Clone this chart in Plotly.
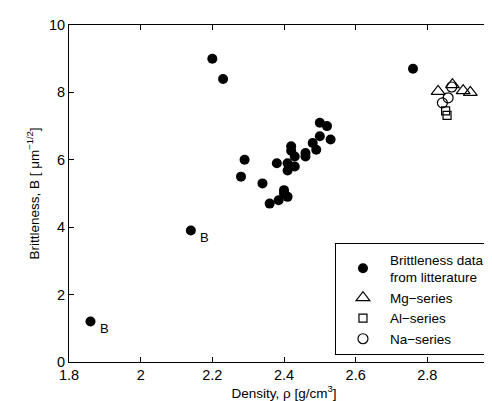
import plotly.graph_objects as go

# literature data (density g/cm3, brittleness um^-1/2)
lit_density = [1.86, 2.14, 2.20, 2.23, 2.76, 2.50, 2.52, 2.50, 2.53, 2.48, 2.49,
               2.42, 2.42, 2.43, 2.46, 2.46, 2.29, 2.38, 2.41, 2.41, 2.43,
               2.28, 2.34, 2.40, 2.40, 2.41, 2.385, 2.36]
lit_brittle = [1.2, 3.9, 9.0, 8.4, 8.7, 7.1, 7.0, 6.7, 6.6, 6.5, 6.3,
               6.4, 6.27, 6.1, 6.2, 6.1, 6.0, 5.9, 5.9, 5.68, 5.8,
               5.5, 5.3, 5.1, 5.0, 4.9, 4.8, 4.7]

mg_density = [2.83, 2.87, 2.90, 2.92]
mg_brittle = [8.03, 8.23, 8.05, 8.0]

al_density = [2.851, 2.855]
al_brittle = [7.45, 7.32]

na_density = [2.868, 2.858, 2.842]
na_brittle = [8.16, 7.84, 7.69]

# points marked with a "B"
b_density = [1.86, 2.14]
b_brittle = [1.2, 3.9]

fig = go.Figure()
fig.add_trace(go.Scatter(x=lit_density, y=lit_brittle, mode='markers',
                         name='Brittleness data<br>from litterature',
                         marker=dict(color='black', size=10)))
fig.add_trace(go.Scatter(x=mg_density, y=mg_brittle, mode='markers', name='Mg−series',
                         marker=dict(symbol='triangle-up-open', color='black', size=12,
                                     line=dict(width=1.2))))
fig.add_trace(go.Scatter(x=al_density, y=al_brittle, mode='markers', name='Al−series',
                         marker=dict(symbol='square-open', color='black', size=8,
                                     line=dict(width=1.2))))
fig.add_trace(go.Scatter(x=na_density, y=na_brittle, mode='markers', name='Na−series',
                         marker=dict(symbol='circle-open', color='black', size=10,
                                     line=dict(width=1.2))))

for bx, by in zip(b_density, b_brittle):
    fig.add_annotation(x=bx, y=by, text='B', showarrow=False, xanchor='left',
                       xshift=7, yshift=-7, font=dict(size=13, color='black'))

axis_style = dict(showgrid=False, zeroline=False, showline=True, linecolor='black',
                  linewidth=1, mirror='ticks', ticks='inside', ticklen=5,
                  tickcolor='black', tickfont=dict(size=14.5, color='black'),
                  automargin=False, ticklabeloverflow='allow')

fig.update_xaxes(range=[1.8, 3.0], tickvals=[1.8, 2, 2.2, 2.4, 2.6, 2.8, 3],
                 ticktext=['1.8', '2', '2.2', '2.4', '2.6', '2.8', '3'],
                 title=dict(text='Density, ρ [g/cm<sup>3</sup>]', font=dict(size=13.5), standoff=4),
                 **axis_style)
fig.update_yaxes(range=[0, 10], tickvals=[0, 2, 4, 6, 8, 10],
                 title=dict(text='Brittleness, B [ μm<sup>−1/2</sup>]', font=dict(size=13.5), standoff=6),
                 **axis_style)

fig.update_layout(width=492, height=401,
                  margin=dict(l=61, r=1, t=17, b=47),
                  paper_bgcolor='white', plot_bgcolor='white',
                  font=dict(family='Liberation Sans, Arial, sans-serif', color='black'),
                  legend=dict(x=0.979, y=0.02, xanchor='right', yanchor='bottom',
                              bordercolor='black', borderwidth=1, bgcolor='white',
                              font=dict(size=13.5), itemwidth=44, tracegroupgap=0))

fig.write_html("out.html")
